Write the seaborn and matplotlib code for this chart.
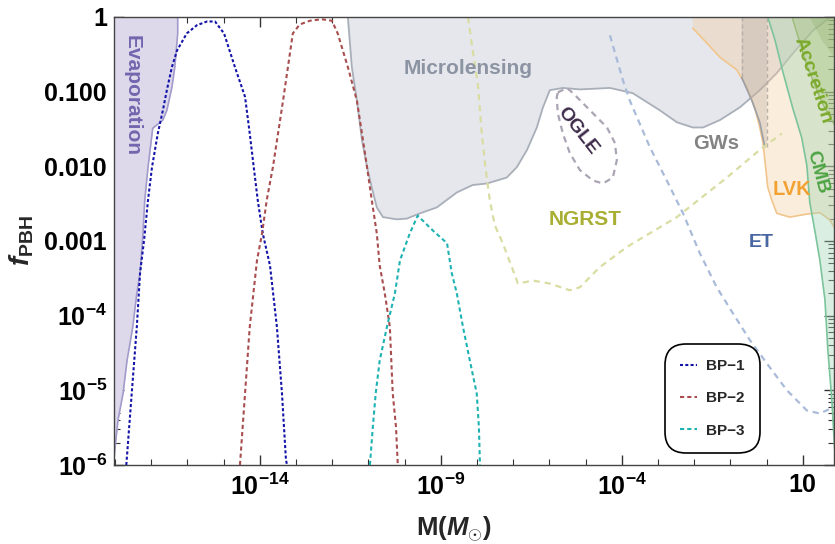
import numpy as np
import matplotlib
matplotlib.use("Agg")
import matplotlib.pyplot as plt
from matplotlib.ticker import NullFormatter
import seaborn as sns

# ---- benchmark-point mass functions: log10(M/Msun), log10(f_PBH) ----
bp1_logm = [-17.69, -17.54, -17.40, -17.31, -17.20, -17.09, -16.98, -16.82, -16.68, -16.57,
            -16.43, -16.29, -16.02, -15.74, -15.46, -15.24, -14.99, -14.69, -14.50, -14.41,
            -14.28, -14.17, -14.06, -13.92, -13.72, -13.53, -13.39, -13.28, -13.25]
bp1_logf = [-6.0, -5.04, -4.15, -3.43, -2.99, -2.45, -2.01, -1.56, -1.25, -0.98,
            -0.67, -0.45, -0.22, -0.11, -0.06, -0.06, -0.22, -0.67, -0.94, -1.07,
            -1.56, -2.01, -2.45, -2.90, -3.33, -4.15, -5.04, -5.93, -6.0]

bp2_logm = [-14.55, -14.41, -14.28, -14.08, -13.94, -13.81, -13.64, -13.36, -13.09, -12.90,
            -12.62, -12.29, -12.01, -11.85, -11.57, -11.32, -11.18, -11.04, -10.91, -10.77,
            -10.69, -10.55, -10.41, -10.33, -10.24, -10.19]
bp2_logf = [-6.0, -5.04, -4.15, -3.26, -2.90, -2.45, -2.01, -1.12, -0.22, -0.10,
            -0.05, -0.03, -0.05, -0.22, -0.67, -1.12, -1.56, -2.01, -2.45, -2.90,
            -3.33, -3.70, -4.15, -5.04, -5.49, -6.0]

bp3_logm = [-10.96, -10.88, -10.80, -10.69, -10.49, -10.27, -10.13, -9.86, -9.64, -9.22,
            -8.83, -8.70, -8.56, -8.39, -8.20, -8.01, -7.95, -7.92]
bp3_logf = [-6.0, -5.49, -5.04, -4.60, -4.15, -3.70, -3.26, -2.90, -2.66, -2.86,
            -3.03, -3.43, -3.70, -4.15, -4.60, -5.04, -5.49, -6.0]

# ---- constraint boundaries ----
evap_logm = [-16.27, -16.27, -16.35, -16.43, -16.57, -16.68, -16.96, -17.09, -17.18, -17.23,
             -17.31, -17.40, -17.51, -17.67, -17.78, -17.92, -18.00, -18.03]
evap_logf = [0.0, -0.22, -0.67, -0.94, -1.25, -1.38, -1.49, -2.01, -2.45, -2.90,
             -3.43, -3.70, -4.15, -4.60, -5.04, -5.40, -5.76, -5.93]

micro_logm = [-11.57, -11.46, -11.32, -11.18, -11.04, -10.91, -10.77, -10.60, -10.22, -9.94,
              -9.58, -9.11, -8.56, -8.12, -7.73, -7.18, -6.90, -6.62, -6.35, -6.18,
              -5.99, -5.63, -5.16, -4.33, -3.70, -2.95, -2.48, -2.04, -1.76, -1.29,
              -0.74, -0.19, 0.28, 0.72, 1.28, 1.66, 1.75]
micro_logf = [0.0, -0.67, -1.12, -1.65, -2.01, -2.28, -2.55, -2.68, -2.71, -2.70,
              -2.63, -2.55, -2.35, -2.25, -2.23, -2.15, -2.01, -1.78, -1.48, -1.21,
              -0.98, -0.95, -0.97, -0.95, -1.02, -1.25, -1.41, -1.48, -1.48, -1.38,
              -1.21, -0.98, -0.75, -0.49, -0.18, -0.04, 0.0]

band_logm = [-0.69, -0.69, -0.41, -0.19, -0.05, 0.006, 0.006]
band_logf = [0.0, -0.81, -1.12, -1.41, -1.74, -1.74, 0.0]

lvk_logm = [-2.04, -2.04, -1.65, -1.29, -0.82, -0.55, -0.33, -0.19, -0.10, -0.05,
            0.03, 0.14, 0.28, 0.64, 1.11, 1.47, 1.75, 1.88]
lvk_logf = [0.0, -0.15, -0.35, -0.54, -0.71, -0.94, -1.21, -1.48, -1.69, -1.92,
            -2.28, -2.45, -2.63, -2.68, -2.64, -2.62, -2.72, -2.83]

cmb_logm = [0.03, 0.23, 0.45, 0.72, 0.97, 1.11, 1.19, 1.33, 1.47, 1.61, 1.69, 1.80, 1.88]
cmb_logf = [0.0, -0.31, -0.74, -1.22, -1.62, -1.99, -2.48, -2.86, -3.26, -3.79, -4.46, -5.13, -5.80]

accr_logm = [0.70, 1.11, 1.52, 1.88]
accr_logf = [0.0, -0.65, -1.14, -1.45]

accr2_logm = [1.19, 1.52, 1.88]
accr2_logf = [0.0, -0.31, -0.55]

ogle_logm = [-5.77, -5.52, -5.35, -4.88, -4.41, -4.19, -4.14, -4.25, -4.52, -4.80,
             -5.16, -5.44, -5.63, -5.77, -5.80, -5.77]
ogle_logf = [-1.01, -0.95, -1.02, -1.25, -1.48, -1.69, -1.92, -2.15, -2.23, -2.19,
             -2.05, -1.82, -1.56, -1.29, -1.08, -1.01]

ngrst_logm = [-8.25, -8.12, -7.98, -7.87, -7.76, -7.65, -7.51, -7.29, -7.04, -6.87,
              -6.46, -5.99, -5.44, -5.16, -4.61, -3.86, -2.48, -1.10, -0.19, 0.42]
ngrst_logf = [0.0, -0.45, -0.89, -1.56, -2.05, -2.45, -2.79, -3.03, -3.35, -3.57,
              -3.53, -3.57, -3.66, -3.62, -3.35, -3.08, -2.68, -2.15, -1.78, -1.56]

et_logm = [-4.33, -3.97, -3.78, -3.23, -2.76, -2.31, -1.85, -1.38, -0.93, -0.46,
           0.006, 0.56, 1.11, 1.47, 1.83]
et_logf = [-0.245, -0.85, -1.12, -1.74, -2.19, -2.63, -3.16, -3.62, -3.97, -4.33,
           -4.64, -5.00, -5.27, -5.31, -5.23]

x_major = [1e-14, 1e-9, 1e-4, 1e1]
x_major_labels = [r"$10^{-14}$", r"$10^{-9}$", r"$10^{-4}$", r"$10$"]
y_major = [1e-6, 1e-5, 1e-4, 1e-3, 1e-2, 1e-1, 1]
y_major_labels = [r"$10^{-6}$", r"$10^{-5}$", r"$10^{-4}$", "0.001", "0.010", "0.100", "1"]
bp_labels = ["BP\u22121", "BP\u22122", "BP\u22123"]

XMIN, XMAX = 10 ** -18.03, 10 ** 1.86
YMIN, YMAX = 1e-6, 1.0


def pw(a):
    return 10.0 ** np.asarray(a, dtype=float)


sns.set_style("ticks")
plt.rcParams["font.family"] = ["Liberation Sans", "DejaVu Sans"]
plt.rcParams.update({
    "mathtext.fontset": "custom",
    "mathtext.rm": "Liberation Sans:bold",
    "mathtext.bf": "Liberation Sans:bold",
    "mathtext.it": "Liberation Sans:italic:bold",
    "mathtext.sf": "Liberation Sans:bold",
    "lines.scale_dashes": False,
    "axes.linewidth": 1.0,
})

fig = plt.figure(figsize=(8.35, 5.44), dpi=100)
ax = fig.add_axes([114 / 835, 79 / 544, 720 / 835, 448 / 544])
ax.set_xscale("log")
ax.set_yscale("log")
ax.set_xlim(XMIN, XMAX)
ax.set_ylim(YMIN, YMAX)

# ---- shaded exclusion regions ----
ax.fill_betweenx(pw(evap_logf), XMIN, pw(evap_logm), color="#DDD9EB", lw=0, zorder=1)
ax.plot(pw(evap_logm), pw(evap_logf), color="#A39BCB", lw=1.2, zorder=1.1)

ax.fill(pw(micro_logm), pw(micro_logf), color="#E5E7EC", lw=0, zorder=1)
ax.plot(pw(micro_logm), pw(micro_logf), color="#A9AFB9", lw=1.3, zorder=1.1)

lvk_x = np.append(pw(lvk_logm), XMAX)
lvk_y = np.append(pw(lvk_logf), YMAX)
ax.fill(lvk_x, lvk_y, color="#F6CC9B", alpha=0.35, lw=0, zorder=1.3)
ax.plot(pw(lvk_logm[1:]), pw(lvk_logf[1:]), color="#F2C58C", lw=1.2, zorder=1.4)

ax.fill(pw(band_logm), pw(band_logf), color="#A09890", alpha=0.25, lw=0, zorder=1.5)
ax.plot(pw(band_logm[:2]), pw(band_logf[:2]), color="#B8B0A8", lw=1.0, ls=(0, (3, 2)), zorder=1.6)
ax.plot(pw(band_logm[1:5]), pw(band_logf[1:5]), color="#9CA0A8", lw=1.2, zorder=1.6)
ax.plot(pw(band_logm[5:]), pw(band_logf[5:]), color="#B8B0A8", lw=1.0, ls=(0, (3, 2)), zorder=1.6)

cmb_x = np.append(pw(cmb_logm), XMAX)
cmb_y = np.append(pw(cmb_logf), YMAX)
ax.fill(cmb_x, cmb_y, color="#9FD4B4", alpha=0.38, lw=0, zorder=1.7)
ax.plot(pw(cmb_logm), pw(cmb_logf), color="#7CC49C", lw=1.2, zorder=1.8)

accr_x = np.append(pw(accr_logm), XMAX)
accr_y = np.append(pw(accr_logf), YMAX)
ax.fill(accr_x, accr_y, color="#90B860", alpha=0.28, lw=0, zorder=1.9)
ax.plot(pw(accr_logm), pw(accr_logf), color="#9CBC78", lw=1.0, zorder=2.0)
acc2_x = np.append(pw(accr2_logm), XMAX)
acc2_y = np.append(pw(accr2_logf), YMAX)
ax.fill(acc2_x, acc2_y, color="#88A860", alpha=0.25, lw=0, zorder=1.95)

# ---- projected sensitivities (dashed) ----
sns.lineplot(x=pw(ngrst_logm), y=pw(ngrst_logf), ax=ax, color="#D9DDA2", lw=1.6,
             linestyle=(0, (4.5, 3.5)), sort=False, estimator=None, legend=False, zorder=2.5)
sns.lineplot(x=pw(et_logm), y=pw(et_logf), ax=ax, color="#A9BBD9", lw=1.6,
             linestyle=(0, (4.5, 3.5)), sort=False, estimator=None, legend=False, zorder=2.5)
sns.lineplot(x=pw(ogle_logm), y=pw(ogle_logf), ax=ax, color="#ABA4B4", lw=1.6,
             linestyle=(0, (4.5, 3.5)), sort=False, estimator=None, legend=False, zorder=2.5)

# ---- benchmark-point mass functions ----
bp_styles = [
    (bp1_logm, bp1_logf, "#1414A8", (0, (2.2, 1.6))),
    (bp2_logm, bp2_logf, "#A84E4E", (0, (3.0, 2.2))),
    (bp3_logm, bp3_logf, "#1FB2B2", (0, (3.0, 2.2))),
]
handles = []
for lm, lf, col, ls in bp_styles:
    sns.lineplot(x=pw(lm), y=pw(lf), ax=ax, color=col, lw=1.5, linestyle=ls,
                 sort=False, estimator=None, legend=False, zorder=3)
    handles.append(ax.lines[-1])

# ---- region labels ----
def label(lx, ly, s, col, size, rot=0):
    ax.text(10 ** lx, 10 ** ly, s, color=col, fontsize=size, fontweight="bold",
            ha="center", va="center", rotation=rot, rotation_mode="anchor", zorder=4)

label(-17.54, -1.05, "Evaporation", "#7466AE", 15, -90)
label(-8.25, -0.69, "Microlensing", "#8C94A3", 15)
label(-5.22, -1.53, "OGLE", "#3E2C4A", 14, -52)
label(-5.02, -2.71, "NGRST", "#A9AF32", 15)
label(-1.40, -1.69, "GWs", "#838383", 14.5)
label(-0.16, -3.02, "ET", "#4867A3", 14)
label(0.70, -2.31, "LVK", "#F2A232", 14.5)
label(1.39, -2.08, "CMB", "#4DA444", 14, -75)
label(1.28, -0.85, "Accretion", "#7BAA2A", 14, -72)

# ---- axes, ticks ----
ax.set_xticks(x_major, x_major_labels)
ax.set_xticks([10.0 ** k for k in range(-18, 2)], minor=True)
ax.xaxis.set_minor_formatter(NullFormatter())
ax.set_yticks(y_major, y_major_labels)
ax.set_yticks([m * 10.0 ** k for k in range(-6, 0) for m in range(2, 10)], minor=True)
ax.yaxis.set_minor_formatter(NullFormatter())
ax.tick_params(axis="both", which="both", direction="in", top=True, right=True,
               colors="#333333", labelcolor="black")
ax.tick_params(axis="both", which="major", length=7, width=1.0, labelsize=18)
ax.tick_params(axis="both", which="minor", length=4, width=0.8)
ax.tick_params(axis="x", which="major", pad=6)
ax.tick_params(axis="y", which="major", pad=5)
for t in ax.get_yticklabels() + ax.get_xticklabels():
    t.set_fontweight("bold")
for sp in ax.spines.values():
    sp.set_color("#444444")

ax.set_xlabel(r"$\mathrm{M(}M_{\odot}\mathrm{)}$", fontsize=18.5)
ax.xaxis.set_label_coords(0.472, -0.11)
ax.set_ylabel(r"$f_{\mathrm{PBH}}$", fontsize=20)
ax.yaxis.set_label_coords(-0.108, 0.5)

leg = ax.legend(handles, bp_labels, loc="lower left", bbox_to_anchor=(0.765, 0.027),
                frameon=True, fancybox=True, handlelength=1.1, handletextpad=0.6,
                labelspacing=1.2, borderpad=1.0, borderaxespad=0,
                prop={"family": "Liberation Sans", "weight": "bold", "size": 11})
frame = leg.get_frame()
frame.set_edgecolor("black")
frame.set_linewidth(1.2)
frame.set_facecolor("white")
frame.set_alpha(1)
frame.set_boxstyle("round,pad=0,rounding_size=1.4")
leg.set_zorder(6)

fig.savefig("out.png", dpi=100)
